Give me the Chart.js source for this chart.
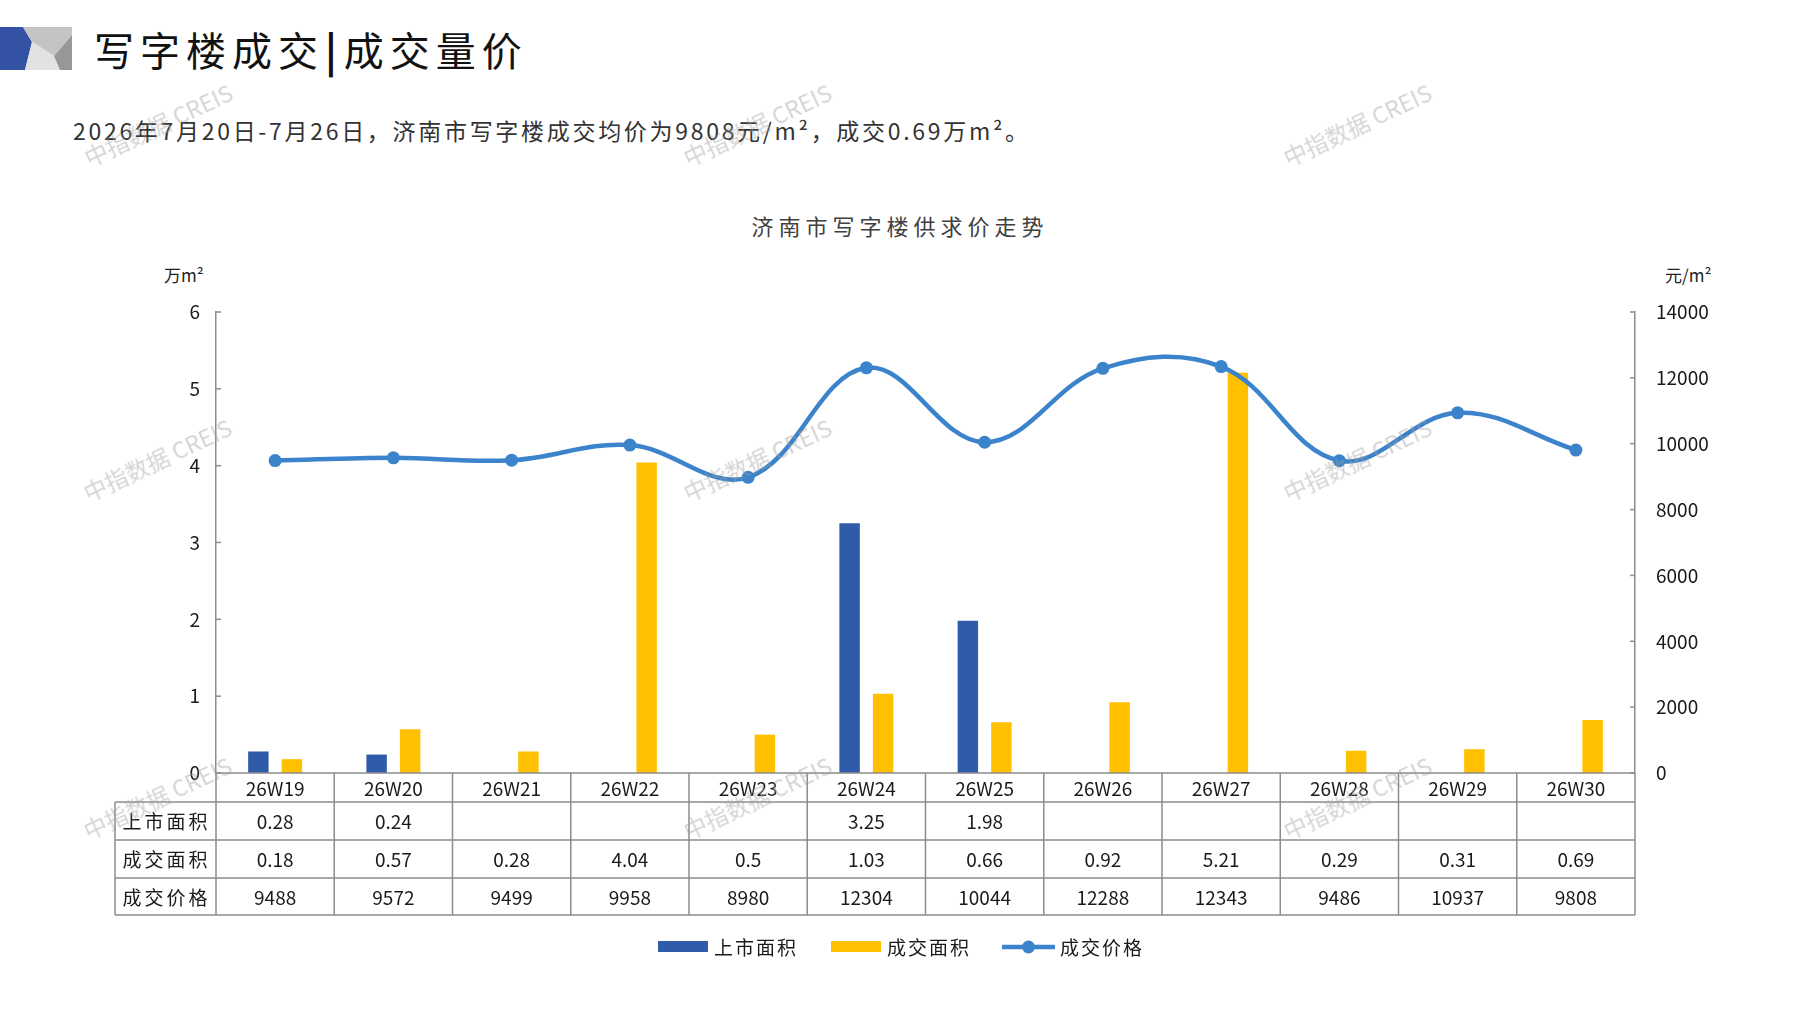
<!DOCTYPE html>
<html lang="zh-CN">
<head>
<meta charset="utf-8">
<title>济南市写字楼供求价走势</title>
<script src="https://cdn.jsdelivr.net/npm/chart.js@4.4.1/dist/chart.umd.min.js"></script>
<style>
html, body { margin: 0; padding: 0; background: #fff; }
body {
    width: 1797px; height: 1010px; position: relative; overflow: hidden;
    font-family: 'Noto Sans CJK SC', 'Noto Sans', sans-serif;
}
#chart { position: absolute; left: 0; top: 0; }
.logo { position: absolute; left: 0; top: 27px; }
.title {
    position: absolute; left: 94px; top: 21px; font-size: 40px; line-height: 56px;
    letter-spacing: 6px; color: #111; white-space: nowrap;
}
.title .bar { font-weight: 700; margin: 0 1px; }
.subtitle {
    position: absolute; left: 73px; top: 114px; font-size: 23px; line-height: 32px;
    letter-spacing: 2.7px; color: #333; white-space: nowrap;
}
.chart-title {
    position: absolute; left: 900px; top: 210px; transform: translateX(-50%);
    font-size: 22px; line-height: 30px; letter-spacing: 5px; color: #404040; white-space: nowrap;
}
.unit { position: absolute; top: 262px; font-size: 17px; line-height: 26px; color: #222; white-space: nowrap; }
.wm {
    position: absolute; transform: translate(-50%, -50%) rotate(-25deg);
    color: rgba(160, 160, 160, 0.45); font-size: 23px; white-space: nowrap;
    pointer-events: none; font-family: 'Noto Sans CJK SC', sans-serif; z-index: 5;
}
</style>
</head>
<body>
<svg class="logo" width="72" height="43" viewBox="0 0 72 43">
    <polygon points="0,0 23,0 32,15 25,43 0,43" fill="#3352a3"/>
    <polygon points="23,0 72,0 72,8 54,29 32,15" fill="#c4c4c4"/>
    <polygon points="32,15 54,29 60,43 25,43" fill="#e2e2e2"/>
    <polygon points="72,8 72,43 60,43 54,29" fill="#979797"/>
</svg>
<div class="title">写字楼成交<span class="bar">|</span>成交量价</div>
<div class="subtitle">2026年7月20日-7月26日，济南市写字楼成交均价为9808元/m²，成交0.69万m²。</div>
<div class="chart-title">济南市写字楼供求价走势</div>
<div class="unit" style="left:164px;">万m²</div>
<div class="unit" style="left:1665px;">元/m²</div>
<canvas id="chart" width="1797" height="1010"></canvas>
<div id="marks"></div>
<script>
// Data
const categories = ['26W19', '26W20', '26W21', '26W22', '26W23', '26W24', '26W25', '26W26', '26W27', '26W28', '26W29', '26W30'];
const listedArea = [0.28, 0.24, null, null, null, 3.25, 1.98, null, null, null, null, null];
const dealArea = [0.18, 0.57, 0.28, 4.04, 0.5, 1.03, 0.66, 0.92, 5.21, 0.29, 0.31, 0.69];
const dealPrice = [9488, 9572, 9499, 9958, 8980, 12304, 10044, 12288, 12343, 9486, 10937, 9808];
const rowLabels = ['上市面积', '成交面积', '成交价格'];
const watermarkText = '中指数据 CREIS';

// Colours
const BLUE = '#2f5ba9';
const GOLD = '#ffc000';
const LINE = '#3b83cb';
const GRID = '#8c8c8c';
const FONT = "'Noto Sans CJK SC', 'Noto Sans', sans-serif";

// Watermarks
const marks = document.getElementById('marks');
[[158, 124], [757, 124], [1357, 124], [157, 459], [757, 459], [1357, 459], [157, 797], [757, 797], [1357, 797]]
    .forEach(([l, t]) => {
        const d = document.createElement('div');
        d.className = 'wm';
        d.style.left = l + 'px';
        d.style.top = t + 'px';
        d.textContent = watermarkText;
        marks.appendChild(d);
    });

// Table rows, inner ticks and legend drawn on the chart canvas
const tablePlugin = {
    id: 'dataTable',
    afterDraw(chart) {
        const ctx = chart.ctx;
        const xs = chart.scales.x;
        const { left, right, bottom } = chart.chartArea;
        const colW = (right - left) / categories.length;
        const tableLeft = 115;
        const rows = [bottom, 802, 840, 878, 915];
        const rowData = [listedArea, dealArea, dealPrice];

        ctx.save();
        // inner ticks
        ctx.strokeStyle = GRID;
        ctx.lineWidth = 1.5;
        chart.scales.y.ticks.forEach(t => {
            const py = chart.scales.y.getPixelForValue(t.value);
            ctx.beginPath(); ctx.moveTo(left, py); ctx.lineTo(left + 5, py); ctx.stroke();
        });
        chart.scales.y1.ticks.forEach(t => {
            const py = chart.scales.y1.getPixelForValue(t.value);
            ctx.beginPath(); ctx.moveTo(right, py); ctx.lineTo(right - 5, py); ctx.stroke();
        });

        // grid lines
        ctx.beginPath();
        ctx.moveTo(left, rows[0]); ctx.lineTo(right, rows[0]);
        for (let r = 1; r < rows.length; r++) {
            ctx.moveTo(tableLeft, rows[r]); ctx.lineTo(right, rows[r]);
        }
        for (let i = 0; i <= categories.length; i++) {
            const px = left + i * colW;
            ctx.moveTo(px, rows[0]); ctx.lineTo(px, rows[4]);
        }
        ctx.moveTo(tableLeft, rows[1]); ctx.lineTo(tableLeft, rows[4]);
        ctx.stroke();

        // text
        ctx.fillStyle = '#1a1a1a';
        ctx.textAlign = 'center';
        ctx.textBaseline = 'middle';
        ctx.font = '19px ' + FONT;
        categories.forEach((c, i) => {
            ctx.fillText(c, xs.getPixelForValue(i), (rows[0] + rows[1]) / 2 + 1);
        });
        rowData.forEach((arr, r) => {
            const cy = (rows[r + 1] + rows[r + 2]) / 2 + 1;
            arr.forEach((v, i) => {
                if (v === null) return;
                ctx.fillText(String(v), xs.getPixelForValue(i), cy);
            });
        });
        ctx.letterSpacing = '3px';
        rowLabels.forEach((lab, r) => {
            const cy = (rows[r + 1] + rows[r + 2]) / 2 + 1;
            ctx.fillText(lab, (tableLeft + left) / 2 + 1, cy);
        });
        ctx.letterSpacing = '2px';

        // legend
        const ly = 947;
        ctx.textAlign = 'left';
        ctx.font = '19px ' + FONT;
        const ds = chart.data.datasets;
        const items = [
            { x: 658, ds: ds[0], kind: 'box' },
            { x: 831, ds: ds[1], kind: 'box' },
            { x: 1002, ds: ds[2], kind: 'line' }
        ];
        items.forEach(it => {
            if (it.kind === 'box') {
                ctx.fillStyle = it.ds.backgroundColor;
                ctx.fillRect(it.x, ly - 6, 50, 11);
            } else {
                ctx.strokeStyle = it.ds.borderColor;
                ctx.lineWidth = 4.5;
                ctx.beginPath(); ctx.moveTo(it.x, ly); ctx.lineTo(it.x + 53, ly); ctx.stroke();
                ctx.fillStyle = it.ds.borderColor;
                ctx.beginPath(); ctx.arc(it.x + 26.5, ly, 6.5, 0, Math.PI * 2); ctx.fill();
            }
            ctx.fillStyle = '#1a1a1a';
            ctx.fillText(it.ds.label, it.x + (it.kind === 'box' ? 56 : 58), ly + 1);
        });
        ctx.restore();
    }
};

new Chart(document.getElementById('chart'), {
    type: 'bar',
    data: {
        labels: categories,
        datasets: [
            {
                label: '上市面积',
                data: listedArea,
                backgroundColor: BLUE,
                yAxisID: 'y',
                order: 1,
                categoryPercentage: 0.567,
                barPercentage: 0.61
            },
            {
                label: '成交面积',
                data: dealArea,
                backgroundColor: GOLD,
                yAxisID: 'y',
                order: 1,
                categoryPercentage: 0.567,
                barPercentage: 0.61
            },
            {
                type: 'line',
                label: '成交价格',
                data: dealPrice,
                borderColor: LINE,
                backgroundColor: LINE,
                borderWidth: 4.5,
                pointRadius: 6.5,
                pointHoverRadius: 6.5,
                pointBorderWidth: 0,
                pointBackgroundColor: LINE,
                tension: 0.38,
                yAxisID: 'y1',
                order: 0
            }
        ]
    },
    options: {
        responsive: false,
        animation: false,
        devicePixelRatio: 1,
        layout: { padding: { top: 312, left: 0, right: 0, bottom: 0 } },
        plugins: {
            legend: { display: false },
            tooltip: { enabled: false }
        },
        scales: {
            x: {
                grid: { display: false },
                border: { display: false },
                ticks: { display: false },
                afterFit: s => { s.height = 1010 - 773; }
            },
            y: {
                position: 'left',
                min: 0, max: 6,
                ticks: { stepSize: 1, color: '#1a1a1a', font: { family: FONT, size: 19 }, padding: 16 },
                grid: { display: false, drawTicks: false },
                border: { color: GRID, width: 1.5 },
                afterFit: s => { s.width = 216; }
            },
            y1: {
                position: 'right',
                min: 0, max: 14000,
                ticks: {
                    stepSize: 2000, color: '#1a1a1a', font: { family: FONT, size: 19 }, padding: 21,
                    callback: v => String(v)
                },
                grid: { display: false, drawTicks: false },
                border: { color: GRID, width: 1.5 },
                afterFit: s => { s.width = 1797 - 1635; }
            }
        }
    },
    plugins: [tablePlugin]
});
</script>
</body>
</html>
